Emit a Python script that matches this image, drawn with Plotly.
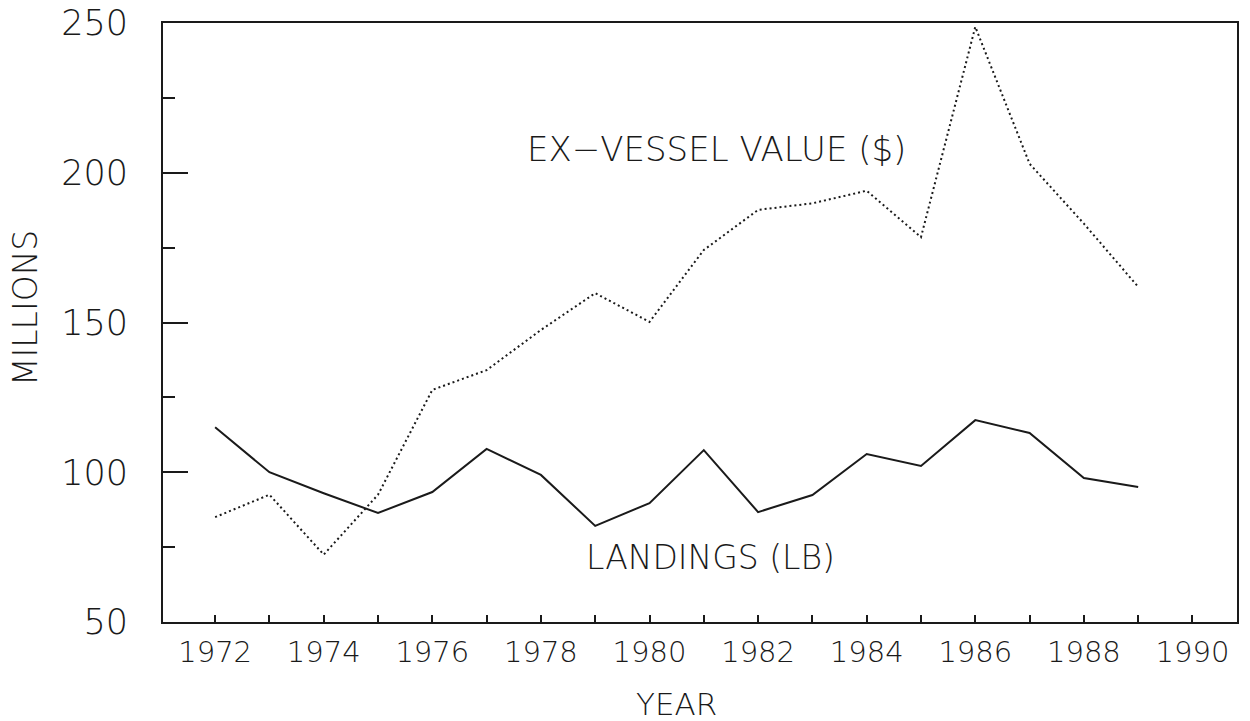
import plotly.graph_objects as go

years = list(range(1972, 1990))
landings = [115, 100, 93, 86.4, 93.4, 107.8, 99.1, 82.1, 89.7, 107.4,
            86.7, 92.4, 106.1, 102.1, 117.4, 113.1, 98.1, 95.1]
ex_vessel = [85, 92.5, 72.5, 92.5, 127.5, 134.1, 147.5, 159.8, 150.2, 174.2,
             187.6, 189.8, 194, 178.5, 248.7, 203, 183, 161.9]

x_ticks = list(range(1972, 1991, 2))
y_ticks = [50, 100, 150, 200, 250]

FONT = "DejaVu Sans"
INK = "#1a1a1a"

fig = go.Figure()
fig.add_trace(go.Scatter(x=years, y=ex_vessel, mode="lines",
                         line=dict(color=INK, width=2, dash="2px,3px"),
                         showlegend=False, hoverinfo="skip"))
fig.add_trace(go.Scatter(x=years, y=landings, mode="lines",
                         line=dict(color=INK, width=2),
                         showlegend=False, hoverinfo="skip"))

fig.add_annotation(x=716, y=149, text="EX\u2212VESSEL VALUE ($)",
                   showarrow=False, font=dict(family=FONT, size=34, color=INK, weight=300))
fig.add_annotation(x=710, y=557, text="LANDINGS (LB)", showarrow=False,
                   font=dict(family=FONT, size=33, color=INK, weight=300))
fig.add_annotation(x=676, y=704, text="YEAR", showarrow=False,
                   font=dict(family=FONT, size=31, color=INK, weight=300))
fig.add_annotation(x=25, y=308, text="MILLIONS", showarrow=False, textangle=-90,
                   font=dict(family=FONT, size=33, color=INK, weight=300))

# convert annotation pixel positions to paper coords
L, R, T, B = 163, 13, 23, 99
W, H = 1250, 721
pw, ph = W - L - R, H - T - B
for a in fig.layout.annotations:
    a.xref = "paper"; a.yref = "paper"
    a.x = (a.x - L) / pw
    a.y = 1 - (a.y - T) / ph
    a.xanchor = "center"; a.yanchor = "middle"

fig.update_layout(
    width=W, height=H,
    margin=dict(l=L, r=R, t=T, b=B, pad=0, autoexpand=False),
    paper_bgcolor="white", plot_bgcolor="white",
    xaxis=dict(range=[1971.04, 1990.82], tickvals=x_ticks, ticks="inside",
               ticklen=7, tickwidth=2, tickcolor=INK, automargin=False,
               minor=dict(dtick=1, tick0=1971, ticks="inside", ticklen=7, tickwidth=2, tickcolor=INK),
               showline=True, linecolor=INK, linewidth=2, mirror=True,
               showgrid=False, zeroline=False,
               tickfont=dict(family=FONT, size=29, color=INK, weight=300), ticklabelstandoff=3),
    yaxis=dict(range=[50, 250], tickvals=y_ticks, ticks="inside",
               ticklen=25, tickwidth=2, tickcolor=INK, automargin=False,
               minor=dict(dtick=25, tick0=50, ticks="inside", ticklen=12, tickwidth=2, tickcolor=INK),
               showline=True, linecolor=INK, linewidth=2, mirror=True,
               showgrid=False, zeroline=False,
               tickfont=dict(family=FONT, size=35, color=INK, weight=300), ticklabelstandoff=26),
)

fig.write_html("out.html", config={"displayModeBar": False},
               post_script="document.body.style.margin='0';document.body.style.overflow='hidden';")
